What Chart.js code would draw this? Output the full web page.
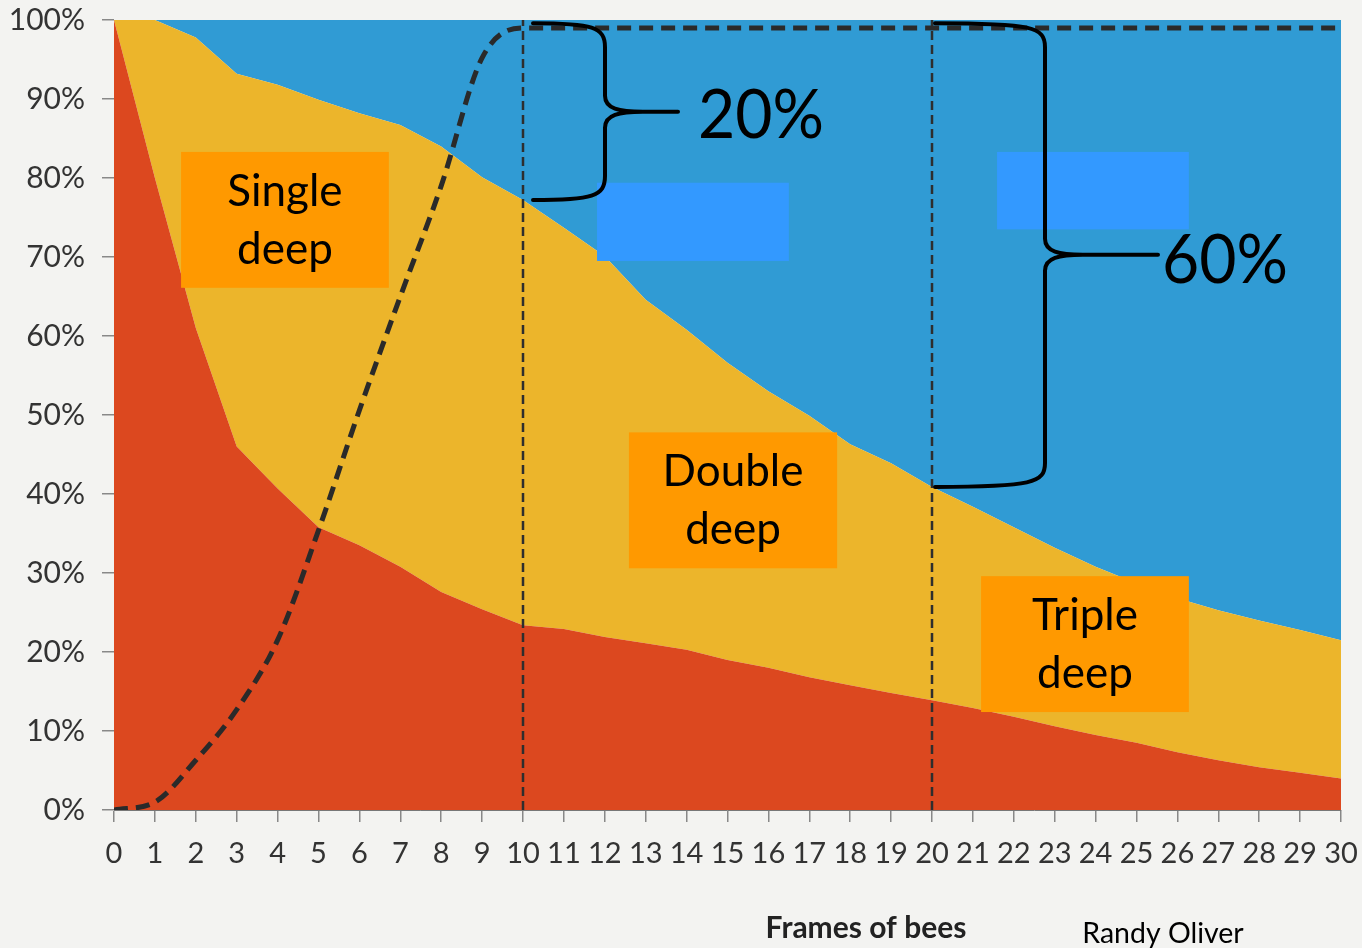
<!DOCTYPE html>
<html>
<head>
<meta charset="utf-8">
<script src="https://cdn.jsdelivr.net/npm/chart.js@4.4.1/dist/chart.umd.min.js"></script>
<style>
  html, body { margin: 0; padding: 0; background: #f3f3f1; }
  canvas { display: block; }
</style>
</head>
<body>
<canvas id="hiveChart" width="1362" height="948"></canvas>
<script>
// frames of bees (x axis)
var frames = [0, 1, 2, 3, 4, 5, 6, 7, 8, 9, 10, 11, 12, 13, 14, 15, 16, 17, 18, 19, 20,
              21, 22, 23, 24, 25, 26, 27, 28, 29, 30];

// share of colonies for each hive size (%), stacked
var singleDeep = [100, 80, 61, 46, 40.7, 35.8, 33.5, 30.8, 27.6, 25.4, 23.4, 22.9, 21.9, 21.1, 20.3, 19.0,
                  18.0, 16.8, 15.8, 14.8, 13.9, 12.9, 11.8, 10.6, 9.5, 8.5, 7.3, 6.3, 5.4, 4.7, 4.0];
var doubleDeep = [0, 20, 36.8, 47.2, 51.1, 54.1, 54.7, 55.9, 56.4, 54.7, 53.8, 50.8, 48.2, 43.5, 40.5, 37.6,
                  35.0, 33.1, 30.5, 29.1, 27.0, 25.5, 24.0, 22.6, 21.3, 20.2, 19.5, 19.0, 18.6, 18.1, 17.5];
var tripleDeep = [0, 0, 2.2, 6.8, 8.2, 10.1, 11.8, 13.3, 16.0, 19.9, 22.8, 26.3, 29.9, 35.4, 39.2, 43.4,
                  47.0, 50.1, 53.7, 56.1, 59.1, 61.6, 64.2, 66.8, 69.2, 71.3, 73.2, 74.7, 76.0, 77.2, 78.5];

// dashed cumulative curve (%)
var cumulative = [0, 1, 6.3, 12.7, 21.5, 35.4, 50.6, 65, 79, 95.2, 99, 99, 99, 99, 99, 99,
                  99, 99, 99, 99, 99, 99, 99, 99, 99, 99, 99, 99, 99, 99, 99];

// y tick values
var yTicks = [0, 10, 20, 30, 40, 50, 60, 70, 80, 90, 100];

// marker lines at 10 and 20 frames
var markerFrames = [10, 20];

function pts(ys) {
    return frames.map(function (f, i) { return { x: f, y: ys[i] }; });
}

function vline(f) {
    return [{ x: f, y: 0 }, { x: f, y: 100 }];
}

var red = '#dc481f';
var yellow = '#ecb52b';
var blue = '#309bd4';

function areaSet(label, data, color, fill) {
    return {
        label: label,
        data: pts(data),
        backgroundColor: color,
        borderColor: color,
        borderWidth: 0,
        pointRadius: 0,
        fill: fill,
        tension: 0,
        stack: 'hives',
        order: 10
    };
}

var datasets = [
    areaSet('Single deep', singleDeep, red, 'origin'),
    areaSet('Double deep', doubleDeep, yellow, '-1'),
    areaSet('Triple deep', tripleDeep, blue, '-1'),
    {
        label: 'Cumulative',
        data: pts(cumulative),
        borderColor: '#2a2a2a',
        borderWidth: 5,
        borderDash: [14, 8],
        pointRadius: 0,
        fill: false,
        cubicInterpolationMode: 'monotone',
        stack: 'curve',
        order: 1
    }
];

markerFrames.forEach(function (f) {
    datasets.push({
        label: 'marker' + f,
        data: vline(f),
        borderColor: '#2e2e2e',
        borderWidth: 2.5,
        borderDash: [9, 5],
        pointRadius: 0,
        fill: false,
        stack: 'marker' + f,
        order: 2
    });
});

// annotation boxes (in chart units)
var labelBoxes = [
    { lines: ['Single', 'deep'], x0: 1.64, x1: 6.72, y0: 66.1, y1: 83.3 },
    { lines: ['Double', 'deep'], x0: 12.59, x1: 17.68, y0: 30.6, y1: 47.8 },
    { lines: ['Triple', 'deep'], x0: 21.2, x1: 26.28, y0: 12.4, y1: 29.6 }
];
var patches = [
    { x0: 11.81, x1: 16.5, y0: 69.5, y1: 79.4 },
    { x0: 21.59, x1: 26.28, y0: 73.5, y1: 83.3 }
];

function drawBrace(ctx, xStart, yTop, yBot, xSpine, xTip, yMid) {
    ctx.beginPath();
    ctx.moveTo(xStart, yTop);
    ctx.bezierCurveTo(xSpine - 12, yTop, xSpine, yTop + 4, xSpine, yTop + 24);
    ctx.lineTo(xSpine, yMid - 16);
    ctx.bezierCurveTo(xSpine, yMid - 3, xSpine + 14, yMid, xSpine + 38, yMid);
    ctx.lineTo(xTip, yMid);
    ctx.moveTo(xSpine + 38, yMid);
    ctx.bezierCurveTo(xSpine + 14, yMid, xSpine, yMid + 3, xSpine, yMid + 16);
    ctx.lineTo(xSpine, yBot - 24);
    ctx.bezierCurveTo(xSpine, yBot - 4, xSpine - 12, yBot, xStart, yBot);
    ctx.stroke();
}

var overlayPlugin = {
    id: 'overlay',
    afterDatasetsDraw: function (chart) {
        var ctx = chart.ctx;
        var xs = chart.scales.x, ys = chart.scales.y;
        var px = function (v) { return xs.getPixelForValue(v); };
        var py = function (v) { return ys.getPixelForValue(v); };
        ctx.save();

        // blue patches
        ctx.fillStyle = '#3399ff';
        patches.forEach(function (p) {
            ctx.fillRect(px(p.x0), py(p.y1), px(p.x1) - px(p.x0), py(p.y0) - py(p.y1));
        });

        // orange label boxes
        labelBoxes.forEach(function (b) {
            var l = px(b.x0), t = py(b.y1), w = px(b.x1) - l, h = py(b.y0) - t;
            ctx.fillStyle = '#ff9900';
            ctx.fillRect(l, t, w, h);
            ctx.fillStyle = '#000';
            ctx.font = '44px Lato';
            ctx.textAlign = 'center';
            ctx.textBaseline = 'middle';
            ctx.fillText(b.lines[0], l + w / 2, t + h * 0.29);
            ctx.fillText(b.lines[1], l + w / 2, t + h * 0.72);
        });

        // braces
        ctx.strokeStyle = '#000';
        ctx.lineWidth = 4;
        ctx.lineCap = 'round';
        var top10 = singleDeep[10] + doubleDeep[10];
        var top20 = singleDeep[20] + doubleDeep[20];
        drawBrace(ctx, px(10) + 10, py(99.6), py(top10), px(10) + 82, px(10) + 155, py(88.4));
        drawBrace(ctx, px(20) + 3, py(99.6), py(top20), px(20) + 113, px(20) + 226, py(70.3));

        ctx.fillStyle = '#000';
        ctx.font = '68px Lato';
        ctx.textAlign = 'left';
        ctx.textBaseline = 'alphabetic';
        ctx.fillText('20%', px(10) + 175, py(88.4) + 26, 126);
        ctx.fillText('60%', px(20) + 230, py(70.3) + 28, 126);

        ctx.restore();
    },
    afterDraw: function (chart) {
        var ctx = chart.ctx;
        ctx.save();
        ctx.fillStyle = '#222';
        ctx.textAlign = 'center';
        ctx.textBaseline = 'middle';
        ctx.font = 'bold 30px Lato';
        ctx.fillText('Frames of bees', 866, 928);
        ctx.fillStyle = '#000';
        ctx.font = '28.5px Lato';
        ctx.fillText('Randy Oliver', 1163, 934);
        ctx.restore();
    }
};

var chart = new Chart(document.getElementById('hiveChart').getContext('2d'), {
    type: 'line',
    data: { datasets: datasets },
    plugins: [overlayPlugin],
    options: {
        responsive: false,
        devicePixelRatio: 1,
        animation: false,
        layout: { padding: { top: 20, right: 21, left: 0, bottom: 0 } },
        plugins: {
            legend: { display: false },
            tooltip: { enabled: false }
        },
        scales: {
            x: {
                type: 'linear',
                min: 0,
                max: 30,
                afterFit: function (scale) {
                    scale.height = 138;
                    scale.paddingLeft = 0;
                    scale.paddingRight = 0;
                },
                ticks: {
                    stepSize: 1,
                    autoSkip: false,
                    maxRotation: 0,
                    padding: 14,
                    color: '#333',
                    font: { family: 'Lato', size: 29 }
                },
                grid: { drawOnChartArea: false, tickLength: 12, color: '#888', lineWidth: 1.5 },
                border: { display: true, color: '#777', width: 1 }
            },
            y: {
                stacked: true,
                min: 0,
                max: 100,
                afterFit: function (scale) {
                    scale.width = 114;
                    scale.paddingTop = 0;
                    scale.paddingBottom = 0;
                },
                afterBuildTicks: function (scale) {
                    scale.ticks = yTicks.map(function (v) { return { value: v }; });
                },
                ticks: {
                    padding: 17,
                    color: '#333',
                    font: { family: 'Lato', size: 30 },
                    callback: function (v) { return v + '%'; }
                },
                grid: { drawOnChartArea: false, tickLength: 12, color: '#888', lineWidth: 1.5 },
                border: { display: false }
            }
        }
    }
});
</script>
</body>
</html>
